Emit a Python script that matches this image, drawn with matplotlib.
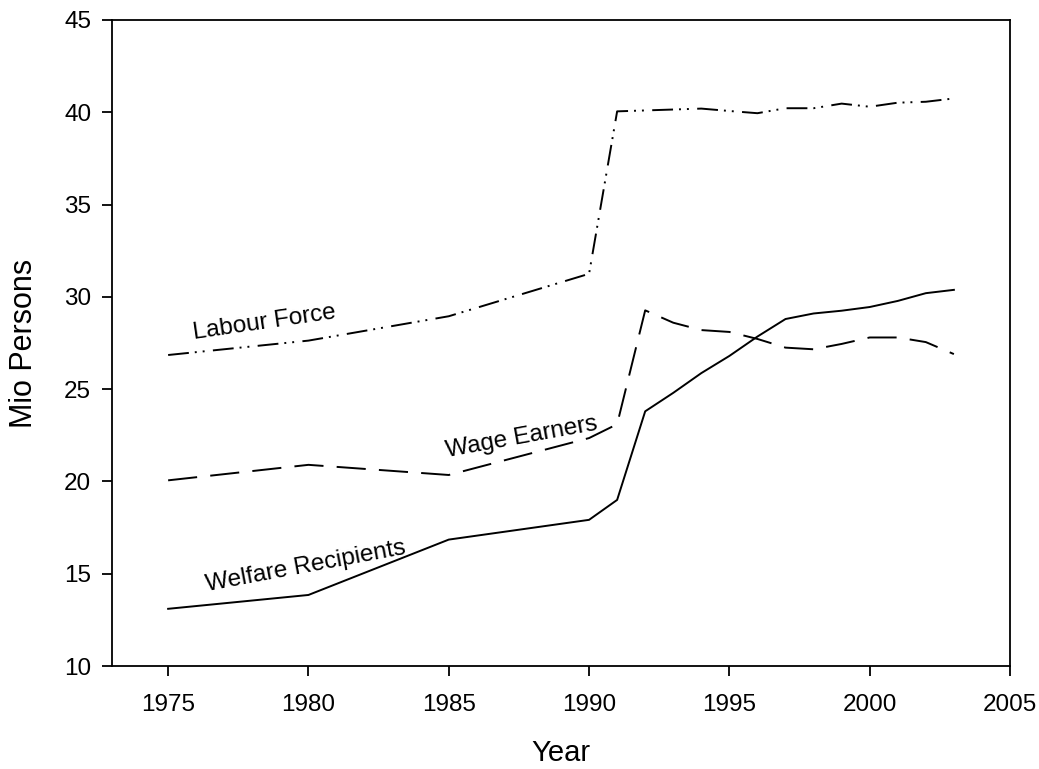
import matplotlib
matplotlib.use("Agg")
import matplotlib.pyplot as plt

plt.rcParams["font.family"] = ["Liberation Sans", "DejaVu Sans"]
plt.rcParams["lines.scale_dashes"] = False

years = [1975, 1980, 1985, 1990, 1991, 1992, 1993, 1994, 1995, 1996,
         1997, 1998, 1999, 2000, 2001, 2002, 2003]

labour_force = [26.85, 27.63, 28.95, 31.25, 40.05, 40.1, 40.15, 40.2, 40.07,
                39.95, 40.22, 40.22, 40.47, 40.3, 40.52, 40.57, 40.75]
wage_earners = [20.06, 20.9, 20.35, 22.35, 23.1, 29.27, 28.6, 28.2, 28.1,
                27.72, 27.25, 27.16, 27.45, 27.8, 27.8, 27.55, 26.9]
welfare = [13.1, 13.85, 16.85, 17.92, 19.0, 23.8, 24.8, 25.87, 26.8,
           27.85, 28.8, 29.1, 29.25, 29.45, 29.78, 30.2, 30.38]

labels = ["Labour Force", "Wage Earners", "Welfare Recipients"]
label_pos = [(1978.45, 28.27), (1987.64, 22.09), (1979.96, 15.06)]
label_rot = [8.3, 10.3, 10.6]

fig = plt.figure(figsize=(10.39, 7.69), dpi=100)
ax = fig.add_axes([0.1078, 0.1339, 0.8643, 0.8401])

lw = 1.4
ax.plot(years, labour_force, color="black", lw=lw,
        dashes=(15, 4.3, 1.4, 4.3, 1.4, 6))
ax.plot(years, wage_earners, color="black", lw=lw, dashes=(21, 9.5))
ax.plot(years, welfare, color="black", lw=lw)

for text, (x, y), rot in zip(labels, label_pos, label_rot):
    ax.text(x, y, text, fontsize=17.5, rotation=rot, rotation_mode="anchor",
            ha="center", va="baseline")

ax.set_xlim(1973, 2005)
ax.set_ylim(10, 45)
ax.set_xticks(range(1975, 2006, 5))
ax.set_yticks(range(10, 46, 5))
ax.tick_params(direction="out", length=7, width=1.3, labelsize=17.5, pad=13)
ax.tick_params(axis="y", pad=8)
for s in ax.spines.values():
    s.set_linewidth(1.3)

ax.set_xlabel("Year", fontsize=21, labelpad=17)
ax.set_ylabel("Mio Persons", fontsize=22, labelpad=18)

fig.savefig("out.png", dpi=100)
